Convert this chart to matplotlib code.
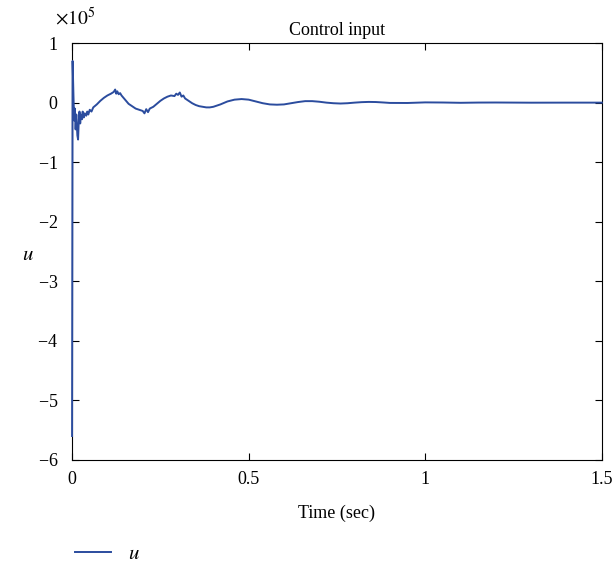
import matplotlib.pyplot as plt
from matplotlib.ticker import ScalarFormatter

# control input u (x1e5)
t = [0.000, 0.0015, 0.004, 0.006, 0.008, 0.010, 0.012, 0.015, 0.017, 0.019,
     0.021, 0.023, 0.025, 0.028, 0.030, 0.033, 0.036, 0.040, 0.043, 0.046,
     0.050, 0.055, 0.060, 0.070, 0.080, 0.090, 0.100, 0.110, 0.118, 0.122,
     0.125, 0.128, 0.132, 0.136, 0.140, 0.150, 0.160, 0.170, 0.180, 0.190,
     0.200, 0.205, 0.210, 0.215, 0.220, 0.230, 0.240, 0.250, 0.260, 0.270,
     0.280, 0.290, 0.295, 0.300, 0.305, 0.310, 0.315, 0.320, 0.330, 0.340,
     0.350, 0.360, 0.370, 0.380, 0.390, 0.400, 0.420, 0.440, 0.460, 0.480,
     0.500, 0.520, 0.540, 0.560, 0.580, 0.600, 0.620, 0.640, 0.660, 0.680,
     0.700, 0.720, 0.740, 0.760, 0.780, 0.800, 0.820, 0.840, 0.860, 0.880,
     0.900, 0.950, 1.000, 1.050, 1.100, 1.150, 1.200, 1.300, 1.400, 1.500]
u = [-5.6, 0.70, 0.10, -0.30, -0.10, -0.45, -0.20, -0.55, -0.62, -0.30,
     -0.15, -0.35, -0.20, -0.28, -0.15, -0.25, -0.18, -0.22, -0.15, -0.20,
     -0.12, -0.15, -0.08, -0.03, 0.03, 0.08, 0.12, 0.15, 0.18, 0.22,
     0.15, 0.19, 0.14, 0.16, 0.12, 0.05, -0.02, -0.06, -0.10, -0.12,
     -0.14, -0.18, -0.11, -0.16, -0.10, -0.07, -0.02, 0.03, 0.07, 0.10,
     0.12, 0.11, 0.15, 0.13, 0.17, 0.10, 0.12, 0.07, 0.03, -0.01,
     -0.04, -0.06, -0.07, -0.08, -0.08, -0.07, -0.03, 0.02, 0.05, 0.06,
     0.05, 0.02, -0.01, -0.03, -0.035, -0.03, -0.01, 0.01, 0.025, 0.025,
     0.015, 0.0, -0.01, -0.015, -0.01, 0.0, 0.008, 0.012, 0.01, 0.003,
     -0.005, -0.006, 0.004, 0.002, -0.003, 0.001, 0.002, -0.001, 0.0, 0.0]

plt.rcParams['font.family'] = ['Liberation Serif', 'DejaVu Serif']
plt.rcParams['font.size'] = 13
plt.rcParams['mathtext.fontset'] = 'stix'

fig = plt.figure(figsize=(6.16, 5.67), dpi=100)
ax = fig.add_axes([0.117, 0.189, 0.860, 0.735])

ax.plot(t, [v * 1e5 for v in u], color='#2b4c9e', linewidth=1.4, label='$u$',
        zorder=3, clip_on=False)

ax.set_xlim(0, 1.5)
ax.set_ylim(-6e5, 1e5)
ax.set_xticks([0, 0.5, 1, 1.5])
ax.set_xticklabels(['0', '0.5', '1', '1.5'])
fmt = ScalarFormatter(useMathText=True)
fmt.set_powerlimits((0, 0))
ax.yaxis.set_major_formatter(fmt)
ax.yaxis.get_offset_text().set_visible(False)
fig.text(0.089, 1 - 18 / 567, r'$\times10^5$', fontsize=14, va='center', ha='left')
ax.tick_params(direction='in', top=True, right=True, length=5)
ax.tick_params(axis='y', pad=10)
ax.tick_params(axis='x', pad=8)

ax.set_title('Control input', fontsize=13, pad=6)
ax.set_xlabel('Time (sec)', labelpad=12)
ax.set_ylabel('$u$', rotation=0, fontsize=15, va='center')
ax.yaxis.set_label_coords(-0.083, 0.49)

fig.legend(loc='lower left', bbox_to_anchor=(0.092, -0.028), frameon=False,
           handlelength=1.7, fontsize=15)

fig.savefig('out.png', dpi=100)
